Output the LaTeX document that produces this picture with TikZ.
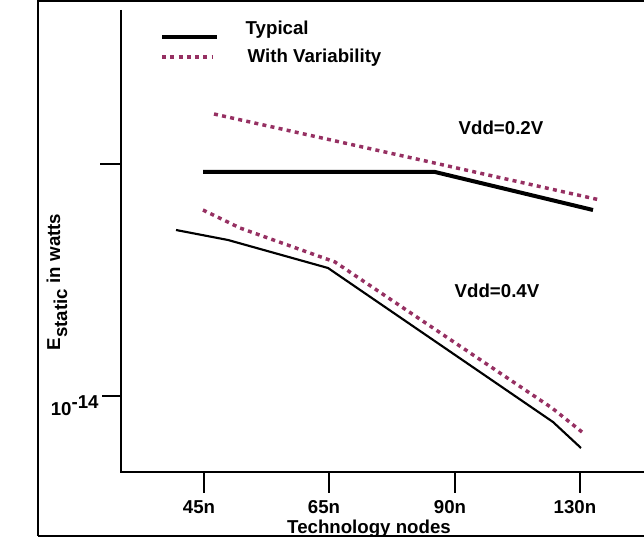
\documentclass[tikz,border=0pt]{standalone}
\usepackage{fontspec}
\setmainfont{Liberation Sans}
\definecolor{varcol}{RGB}{150,48,98}
\tikzset{
  typical/.style={black,line width=3pt},
  typthin/.style={black,line width=1.6pt},
  variab/.style={varcol,line width=2.6pt,dash pattern=on 3pt off 3.2pt},
  lbl/.style={font=\bfseries\fontsize{14}{16}\selectfont},
}
\begin{document}
\begin{tikzpicture}[x=0.75pt,y=-0.75pt]
  \useasboundingbox (0,0) rectangle (644,538);

  % Frame
  \draw[line width=1.5pt] (38,536) -- (38,1) -- (644,1);
  \draw[line width=1.5pt] (38,536) -- (644,536);

  % Axes
  \coordinate (o) at (121,472);
  \draw[line width=1.2pt] (121,10) -- (o) -- (644,472);
  \draw[line width=1pt] (102,396) -- (121,396);
  \draw[line width=1pt] (100,164) -- (121,164);
  \node[lbl] at (75,406) {10$^{\textrm{-14}}$};
  \node[lbl,rotate=90] at (57,282) {E$_{\textrm{static}}$ in watts};
  \foreach \x/\t in {204/45n,329/65n,455/90n,580/130n} {
    \draw[line width=1pt] (\x,472) -- (\x,493);
    \node[lbl] at (\x-5,507) {\t};
  }
  \node[lbl] at (369,529) {Technology nodes};

  % Curves
  \draw[typical] (203,172) -- (435,172) -- (593,210);
  \draw[variab] (214,114) -- (430,162) -- (600,200);
  \draw[typthin] (176,230) -- (228,240) -- (328,268) -- (553,422) -- (581,448);
  \draw[variab] (203,210) -- (240,228) -- (335,262) -- (552,408) -- (582,432);
  \node[lbl] at (501,128) {Vdd=0.2V};
  \node[lbl] at (497,291) {Vdd=0.4V};

  % Legend
  \draw[typical] (162,37) -- (217,37);
  \draw[variab] (162,57) -- (213,57);
  \node[lbl,anchor=west] at (241,30) {Typical};
  \node[lbl,anchor=west] at (243,58) {With Variability};
\end{tikzpicture}
\end{document}
